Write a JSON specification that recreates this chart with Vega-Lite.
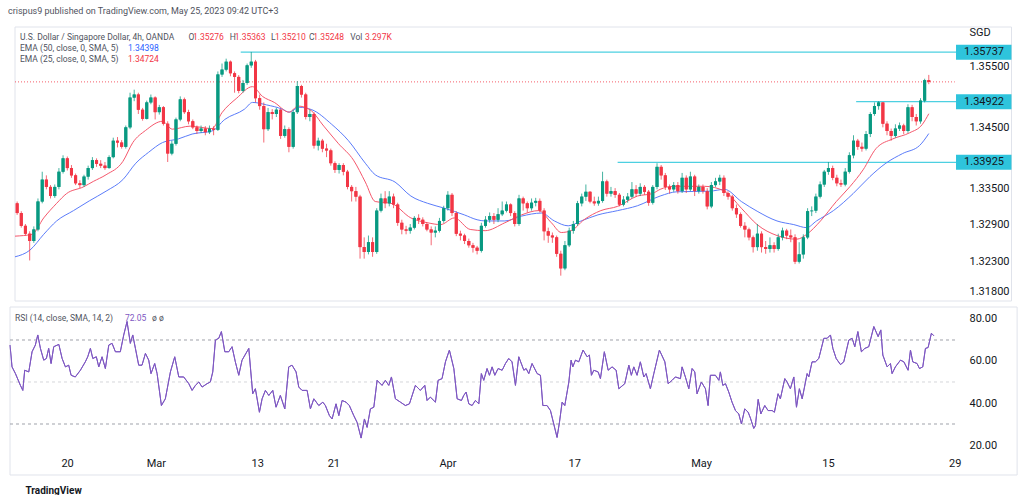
{
"$schema":"https://vega.github.io/schema/vega-lite/v6.json",
"background":"#ffffff",
"padding":{"left":8,"top":7,"right":0,"bottom":0},
"title":{"text":"crispus9 published on TradingView.com, May 25, 2023 09:42 UTC+3","anchor":"start","fontSize":9,"fontWeight":"normal","color":"#50535e","font":"Roboto","offset":6},
"config":{"view":{"stroke":null},"font":"Roboto","axis":{"labelFont":"Roboto","titleFont":"Roboto"}},
"datasets":{
"candles":[
{"t":-4.33,"o":1.3325,"h":1.3328,"l":1.3306,"c":1.3309},
{"t":-4,"o":1.3309,"h":1.3312,"l":1.3285,"c":1.3288},
{"t":-3.67,"o":1.3288,"h":1.3291,"l":1.3272,"c":1.3275},
{"t":-3.33,"o":1.3275,"h":1.3279,"l":1.3231,"c":1.3263},
{"t":-3,"o":1.3263,"h":1.3287,"l":1.3260,"c":1.3282},
{"t":-2.67,"o":1.3282,"h":1.3333,"l":1.3279,"c":1.3328},
{"t":-2.33,"o":1.3328,"h":1.3377,"l":1.3325,"c":1.3364},
{"t":-2,"o":1.3364,"h":1.3371,"l":1.3348,"c":1.3352},
{"t":-1.67,"o":1.3352,"h":1.3355,"l":1.3333,"c":1.3337},
{"t":-1.33,"o":1.3337,"h":1.3356,"l":1.3334,"c":1.3352},
{"t":-1,"o":1.3352,"h":1.3383,"l":1.3348,"c":1.3377},
{"t":-0.67,"o":1.3377,"h":1.3404,"l":1.3374,"c":1.3399},
{"t":-0.33,"o":1.3399,"h":1.3402,"l":1.3379,"c":1.3383},
{"t":0,"o":1.3383,"h":1.3388,"l":1.3367,"c":1.3371},
{"t":0.33,"o":1.3371,"h":1.3374,"l":1.3355,"c":1.3358},
{"t":0.67,"o":1.3358,"h":1.3363,"l":1.3350,"c":1.3355},
{"t":1,"o":1.3355,"h":1.3372,"l":1.3352,"c":1.3369},
{"t":1.33,"o":1.3369,"h":1.3387,"l":1.3364,"c":1.3383},
{"t":1.67,"o":1.3383,"h":1.3401,"l":1.3380,"c":1.3396},
{"t":2,"o":1.3396,"h":1.3399,"l":1.3385,"c":1.3390},
{"t":2.33,"o":1.3390,"h":1.3396,"l":1.3383,"c":1.3387},
{"t":2.67,"o":1.3387,"h":1.3393,"l":1.3380,"c":1.3383},
{"t":3,"o":1.3383,"h":1.3404,"l":1.3382,"c":1.3401},
{"t":3.33,"o":1.3401,"h":1.3433,"l":1.3399,"c":1.3428},
{"t":3.67,"o":1.3428,"h":1.3434,"l":1.3417,"c":1.3425},
{"t":4,"o":1.3425,"h":1.3429,"l":1.3415,"c":1.3418},
{"t":4.33,"o":1.3418,"h":1.3453,"l":1.3415,"c":1.3450},
{"t":4.67,"o":1.3450,"h":1.3507,"l":1.3447,"c":1.3499},
{"t":5,"o":1.3499,"h":1.3512,"l":1.3493,"c":1.3504},
{"t":5.33,"o":1.3504,"h":1.3507,"l":1.3472,"c":1.3479},
{"t":5.67,"o":1.3479,"h":1.3482,"l":1.3461,"c":1.3464},
{"t":6,"o":1.3464,"h":1.3494,"l":1.3463,"c":1.3491},
{"t":6.33,"o":1.3491,"h":1.3504,"l":1.3488,"c":1.3499},
{"t":6.67,"o":1.3499,"h":1.3501,"l":1.3463,"c":1.3475},
{"t":7,"o":1.3475,"h":1.3487,"l":1.3471,"c":1.3483},
{"t":7.33,"o":1.3483,"h":1.3485,"l":1.3453,"c":1.3456},
{"t":7.67,"o":1.3456,"h":1.3460,"l":1.3393,"c":1.3407},
{"t":8,"o":1.3407,"h":1.3428,"l":1.3404,"c":1.3423},
{"t":8.33,"o":1.3423,"h":1.3466,"l":1.3420,"c":1.3463},
{"t":8.67,"o":1.3463,"h":1.3501,"l":1.3460,"c":1.3496},
{"t":9,"o":1.3496,"h":1.3499,"l":1.3472,"c":1.3475},
{"t":9.33,"o":1.3475,"h":1.3479,"l":1.3455,"c":1.3460},
{"t":9.67,"o":1.3460,"h":1.3463,"l":1.3447,"c":1.3450},
{"t":10,"o":1.3450,"h":1.3453,"l":1.3439,"c":1.3444},
{"t":10.33,"o":1.3444,"h":1.3453,"l":1.3441,"c":1.3448},
{"t":10.67,"o":1.3448,"h":1.3452,"l":1.3437,"c":1.3442},
{"t":11,"o":1.3442,"h":1.3453,"l":1.3439,"c":1.3448},
{"t":11.33,"o":1.3448,"h":1.3452,"l":1.3437,"c":1.3446},
{"t":11.67,"o":1.3446,"h":1.3542,"l":1.3444,"c":1.3537},
{"t":12,"o":1.3537,"h":1.3555,"l":1.3533,"c":1.3545},
{"t":12.33,"o":1.3545,"h":1.3563,"l":1.3542,"c":1.3558},
{"t":12.67,"o":1.3558,"h":1.3560,"l":1.3534,"c":1.3539},
{"t":13,"o":1.3539,"h":1.3542,"l":1.3507,"c":1.3533},
{"t":13.33,"o":1.3533,"h":1.3536,"l":1.3506,"c":1.3510},
{"t":13.67,"o":1.3510,"h":1.3528,"l":1.3507,"c":1.3523},
{"t":14,"o":1.3523,"h":1.3555,"l":1.3520,"c":1.3552},
{"t":14.33,"o":1.3552,"h":1.3574,"l":1.3548,"c":1.3558},
{"t":14.67,"o":1.3558,"h":1.3561,"l":1.3491,"c":1.3498},
{"t":15,"o":1.3498,"h":1.3504,"l":1.3479,"c":1.3485},
{"t":15.33,"o":1.3485,"h":1.3491,"l":1.3425,"c":1.3447},
{"t":15.67,"o":1.3447,"h":1.3482,"l":1.3444,"c":1.3475},
{"t":16,"o":1.3475,"h":1.3480,"l":1.3463,"c":1.3472},
{"t":16.33,"o":1.3472,"h":1.3482,"l":1.3467,"c":1.3479},
{"t":16.67,"o":1.3479,"h":1.3480,"l":1.3431,"c":1.3436},
{"t":17,"o":1.3436,"h":1.3453,"l":1.3433,"c":1.3447},
{"t":17.33,"o":1.3447,"h":1.3450,"l":1.3409,"c":1.3418},
{"t":17.67,"o":1.3418,"h":1.3479,"l":1.3415,"c":1.3475},
{"t":18,"o":1.3475,"h":1.3526,"l":1.3472,"c":1.3518},
{"t":18.33,"o":1.3518,"h":1.3520,"l":1.3499,"c":1.3504},
{"t":18.67,"o":1.3504,"h":1.3507,"l":1.3463,"c":1.3467},
{"t":19,"o":1.3467,"h":1.3479,"l":1.3460,"c":1.3472},
{"t":19.33,"o":1.3472,"h":1.3475,"l":1.3415,"c":1.3420},
{"t":19.67,"o":1.3420,"h":1.3433,"l":1.3412,"c":1.3428},
{"t":20,"o":1.3428,"h":1.3431,"l":1.3409,"c":1.3415},
{"t":20.33,"o":1.3415,"h":1.3423,"l":1.3401,"c":1.3412},
{"t":20.67,"o":1.3412,"h":1.3415,"l":1.3387,"c":1.3391},
{"t":21,"o":1.3391,"h":1.3394,"l":1.3375,"c":1.3380},
{"t":21.33,"o":1.3380,"h":1.3391,"l":1.3374,"c":1.3388},
{"t":21.67,"o":1.3388,"h":1.3391,"l":1.3371,"c":1.3377},
{"t":22,"o":1.3377,"h":1.3380,"l":1.3348,"c":1.3352},
{"t":22.33,"o":1.3352,"h":1.3355,"l":1.3328,"c":1.3345},
{"t":22.67,"o":1.3345,"h":1.3352,"l":1.3328,"c":1.3336},
{"t":23,"o":1.3336,"h":1.3339,"l":1.3234,"c":1.3253},
{"t":23.33,"o":1.3253,"h":1.3269,"l":1.3234,"c":1.3245},
{"t":23.67,"o":1.3245,"h":1.3272,"l":1.3241,"c":1.3261},
{"t":24,"o":1.3261,"h":1.3269,"l":1.3237,"c":1.3245},
{"t":24.33,"o":1.3245,"h":1.3317,"l":1.3242,"c":1.3313},
{"t":24.67,"o":1.3313,"h":1.3341,"l":1.3310,"c":1.3333},
{"t":25,"o":1.3333,"h":1.3345,"l":1.3317,"c":1.3325},
{"t":25.33,"o":1.3325,"h":1.3345,"l":1.3320,"c":1.3336},
{"t":25.67,"o":1.3336,"h":1.3341,"l":1.3317,"c":1.3323},
{"t":26,"o":1.3323,"h":1.3326,"l":1.3288,"c":1.3293},
{"t":26.33,"o":1.3293,"h":1.3298,"l":1.3274,"c":1.3282},
{"t":26.67,"o":1.3282,"h":1.3288,"l":1.3274,"c":1.3280},
{"t":27,"o":1.3280,"h":1.3291,"l":1.3275,"c":1.3285},
{"t":27.33,"o":1.3285,"h":1.3304,"l":1.3282,"c":1.3301},
{"t":27.67,"o":1.3301,"h":1.3307,"l":1.3291,"c":1.3298},
{"t":28,"o":1.3298,"h":1.3302,"l":1.3287,"c":1.3291},
{"t":28.33,"o":1.3291,"h":1.3294,"l":1.3279,"c":1.3282},
{"t":28.67,"o":1.3282,"h":1.3287,"l":1.3256,"c":1.3277},
{"t":29,"o":1.3277,"h":1.3287,"l":1.3269,"c":1.3280},
{"t":29.33,"o":1.3280,"h":1.3301,"l":1.3277,"c":1.3296},
{"t":29.67,"o":1.3296,"h":1.3321,"l":1.3293,"c":1.3317},
{"t":30,"o":1.3317,"h":1.3345,"l":1.3313,"c":1.3339},
{"t":30.33,"o":1.3339,"h":1.3342,"l":1.3304,"c":1.3309},
{"t":30.67,"o":1.3309,"h":1.3312,"l":1.3271,"c":1.3275},
{"t":31,"o":1.3275,"h":1.3280,"l":1.3264,"c":1.3272},
{"t":31.33,"o":1.3272,"h":1.3275,"l":1.3258,"c":1.3263},
{"t":31.67,"o":1.3263,"h":1.3267,"l":1.3252,"c":1.3256},
{"t":32,"o":1.3256,"h":1.3260,"l":1.3244,"c":1.3252},
{"t":32.33,"o":1.3252,"h":1.3255,"l":1.3241,"c":1.3247},
{"t":32.67,"o":1.3247,"h":1.3293,"l":1.3244,"c":1.3288},
{"t":33,"o":1.3288,"h":1.3304,"l":1.3285,"c":1.3298},
{"t":33.33,"o":1.3298,"h":1.3310,"l":1.3293,"c":1.3304},
{"t":33.67,"o":1.3304,"h":1.3309,"l":1.3291,"c":1.3298},
{"t":34,"o":1.3298,"h":1.3317,"l":1.3294,"c":1.3307},
{"t":34.33,"o":1.3307,"h":1.3328,"l":1.3304,"c":1.3313},
{"t":34.67,"o":1.3313,"h":1.3328,"l":1.3310,"c":1.3323},
{"t":35,"o":1.3323,"h":1.3325,"l":1.3304,"c":1.3309},
{"t":35.33,"o":1.3309,"h":1.3312,"l":1.3287,"c":1.3291},
{"t":35.67,"o":1.3291,"h":1.3339,"l":1.3288,"c":1.3333},
{"t":36,"o":1.3333,"h":1.3336,"l":1.3313,"c":1.3325},
{"t":36.33,"o":1.3325,"h":1.3328,"l":1.3310,"c":1.3317},
{"t":36.67,"o":1.3317,"h":1.3333,"l":1.3313,"c":1.3326},
{"t":37,"o":1.3326,"h":1.3334,"l":1.3320,"c":1.3329},
{"t":37.33,"o":1.3329,"h":1.3333,"l":1.3310,"c":1.3313},
{"t":37.67,"o":1.3313,"h":1.3317,"l":1.3264,"c":1.3279},
{"t":38,"o":1.3279,"h":1.3285,"l":1.3260,"c":1.3272},
{"t":38.33,"o":1.3272,"h":1.3277,"l":1.3260,"c":1.3269},
{"t":38.67,"o":1.3269,"h":1.3272,"l":1.3237,"c":1.3242},
{"t":39,"o":1.3242,"h":1.3247,"l":1.3206,"c":1.3218},
{"t":39.33,"o":1.3218,"h":1.3263,"l":1.3215,"c":1.3256},
{"t":39.67,"o":1.3256,"h":1.3285,"l":1.3253,"c":1.3280},
{"t":40,"o":1.3280,"h":1.3296,"l":1.3275,"c":1.3291},
{"t":40.33,"o":1.3291,"h":1.3329,"l":1.3288,"c":1.3325},
{"t":40.67,"o":1.3325,"h":1.3341,"l":1.3320,"c":1.3336},
{"t":41,"o":1.3336,"h":1.3356,"l":1.3329,"c":1.3344},
{"t":41.33,"o":1.3344,"h":1.3345,"l":1.3325,"c":1.3328},
{"t":41.67,"o":1.3328,"h":1.3336,"l":1.3321,"c":1.3325},
{"t":42,"o":1.3325,"h":1.3336,"l":1.3321,"c":1.3329},
{"t":42.33,"o":1.3329,"h":1.3377,"l":1.3326,"c":1.3361},
{"t":42.67,"o":1.3361,"h":1.3364,"l":1.3336,"c":1.3341},
{"t":43,"o":1.3341,"h":1.3352,"l":1.3336,"c":1.3345},
{"t":43.33,"o":1.3345,"h":1.3350,"l":1.3334,"c":1.3339},
{"t":43.67,"o":1.3339,"h":1.3342,"l":1.3320,"c":1.3323},
{"t":44,"o":1.3323,"h":1.3337,"l":1.3320,"c":1.3331},
{"t":44.33,"o":1.3331,"h":1.3342,"l":1.3326,"c":1.3336},
{"t":44.67,"o":1.3336,"h":1.3360,"l":1.3333,"c":1.3348},
{"t":45,"o":1.3348,"h":1.3355,"l":1.3336,"c":1.3341},
{"t":45.33,"o":1.3341,"h":1.3358,"l":1.3337,"c":1.3352},
{"t":45.67,"o":1.3352,"h":1.3355,"l":1.3339,"c":1.3344},
{"t":46,"o":1.3344,"h":1.3347,"l":1.3321,"c":1.3326},
{"t":46.33,"o":1.3326,"h":1.3355,"l":1.3323,"c":1.3352},
{"t":46.67,"o":1.3352,"h":1.3391,"l":1.3348,"c":1.3385},
{"t":47,"o":1.3385,"h":1.3388,"l":1.3364,"c":1.3371},
{"t":47.33,"o":1.3371,"h":1.3375,"l":1.3347,"c":1.3352},
{"t":47.67,"o":1.3352,"h":1.3356,"l":1.3341,"c":1.3348},
{"t":48,"o":1.3348,"h":1.3360,"l":1.3344,"c":1.3355},
{"t":48.33,"o":1.3355,"h":1.3360,"l":1.3341,"c":1.3345},
{"t":48.67,"o":1.3345,"h":1.3375,"l":1.3342,"c":1.3367},
{"t":49,"o":1.3367,"h":1.3371,"l":1.3342,"c":1.3348},
{"t":49.33,"o":1.3348,"h":1.3377,"l":1.3345,"c":1.3369},
{"t":49.67,"o":1.3369,"h":1.3372,"l":1.3337,"c":1.3345},
{"t":50,"o":1.3345,"h":1.3356,"l":1.3341,"c":1.3352},
{"t":50.33,"o":1.3352,"h":1.3356,"l":1.3341,"c":1.3345},
{"t":50.67,"o":1.3345,"h":1.3350,"l":1.3315,"c":1.3320},
{"t":51,"o":1.3320,"h":1.3360,"l":1.3317,"c":1.3355},
{"t":51.33,"o":1.3355,"h":1.3367,"l":1.3352,"c":1.3361},
{"t":51.67,"o":1.3361,"h":1.3372,"l":1.3355,"c":1.3367},
{"t":52,"o":1.3367,"h":1.3371,"l":1.3337,"c":1.3342},
{"t":52.33,"o":1.3342,"h":1.3345,"l":1.3331,"c":1.3336},
{"t":52.67,"o":1.3336,"h":1.3339,"l":1.3313,"c":1.3317},
{"t":53,"o":1.3317,"h":1.3323,"l":1.3301,"c":1.3307},
{"t":53.33,"o":1.3307,"h":1.3310,"l":1.3285,"c":1.3288},
{"t":53.67,"o":1.3288,"h":1.3294,"l":1.3269,"c":1.3282},
{"t":54,"o":1.3282,"h":1.3285,"l":1.3264,"c":1.3269},
{"t":54.33,"o":1.3269,"h":1.3272,"l":1.3244,"c":1.3253},
{"t":54.67,"o":1.3253,"h":1.3291,"l":1.3247,"c":1.3275},
{"t":55,"o":1.3275,"h":1.3279,"l":1.3244,"c":1.3253},
{"t":55.33,"o":1.3253,"h":1.3263,"l":1.3242,"c":1.3250},
{"t":55.67,"o":1.3250,"h":1.3269,"l":1.3244,"c":1.3256},
{"t":56,"o":1.3256,"h":1.3261,"l":1.3244,"c":1.3250},
{"t":56.33,"o":1.3250,"h":1.3275,"l":1.3247,"c":1.3269},
{"t":56.67,"o":1.3269,"h":1.3285,"l":1.3264,"c":1.3280},
{"t":57,"o":1.3280,"h":1.3283,"l":1.3266,"c":1.3272},
{"t":57.33,"o":1.3272,"h":1.3282,"l":1.3261,"c":1.3269},
{"t":57.67,"o":1.3269,"h":1.3274,"l":1.3225,"c":1.3229},
{"t":58,"o":1.3229,"h":1.3261,"l":1.3226,"c":1.3241},
{"t":58.33,"o":1.3241,"h":1.3274,"l":1.3234,"c":1.3269},
{"t":58.67,"o":1.3269,"h":1.3317,"l":1.3266,"c":1.3312},
{"t":59,"o":1.3312,"h":1.3320,"l":1.3304,"c":1.3313},
{"t":59.33,"o":1.3313,"h":1.3341,"l":1.3309,"c":1.3336},
{"t":59.67,"o":1.3336,"h":1.3361,"l":1.3333,"c":1.3356},
{"t":60,"o":1.3356,"h":1.3380,"l":1.3352,"c":1.3377},
{"t":60.33,"o":1.3377,"h":1.3393,"l":1.3372,"c":1.3383},
{"t":60.67,"o":1.3383,"h":1.3387,"l":1.3363,"c":1.3367},
{"t":61,"o":1.3367,"h":1.3372,"l":1.3353,"c":1.3358},
{"t":61.33,"o":1.3358,"h":1.3364,"l":1.3352,"c":1.3356},
{"t":61.67,"o":1.3356,"h":1.3383,"l":1.3353,"c":1.3377},
{"t":62,"o":1.3377,"h":1.3409,"l":1.3374,"c":1.3404},
{"t":62.33,"o":1.3404,"h":1.3437,"l":1.3399,"c":1.3428},
{"t":62.67,"o":1.3428,"h":1.3431,"l":1.3413,"c":1.3418},
{"t":63,"o":1.3418,"h":1.3425,"l":1.3410,"c":1.3415},
{"t":63.33,"o":1.3415,"h":1.3444,"l":1.3412,"c":1.3439},
{"t":63.67,"o":1.3439,"h":1.3475,"l":1.3434,"c":1.3472},
{"t":64,"o":1.3472,"h":1.3491,"l":1.3469,"c":1.3485},
{"t":64.33,"o":1.3485,"h":1.3493,"l":1.3479,"c":1.3491},
{"t":64.67,"o":1.3491,"h":1.3491,"l":1.3450,"c":1.3456},
{"t":65,"o":1.3456,"h":1.3460,"l":1.3437,"c":1.3444},
{"t":65.33,"o":1.3444,"h":1.3448,"l":1.3428,"c":1.3436},
{"t":65.67,"o":1.3436,"h":1.3455,"l":1.3433,"c":1.3448},
{"t":66,"o":1.3448,"h":1.3458,"l":1.3444,"c":1.3453},
{"t":66.33,"o":1.3453,"h":1.3456,"l":1.3439,"c":1.3444},
{"t":66.67,"o":1.3444,"h":1.3488,"l":1.3441,"c":1.3483},
{"t":67,"o":1.3483,"h":1.3487,"l":1.3460,"c":1.3467},
{"t":67.33,"o":1.3467,"h":1.3472,"l":1.3453,"c":1.3460},
{"t":67.67,"o":1.3460,"h":1.3498,"l":1.3456,"c":1.3494},
{"t":68,"o":1.3494,"h":1.3530,"l":1.3491,"c":1.35276},
{"t":68.33,"o":1.35276,"h":1.35363,"l":1.3521,"c":1.35248}
],
"ema25":[
{"t":-4.5,"v":1.3271},{"t":-3.15,"v":1.3274},{"t":-2.21,"v":1.3301},{"t":-1.18,"v":1.3325},{"t":-0.39,"v":1.3341},{"t":0.95,"v":1.3352},{"t":1.74,"v":1.3361},{"t":2.76,"v":1.3372},{"t":4.1,"v":1.3394},{"t":4.89,"v":1.3425},{"t":5.91,"v":1.3445},{"t":7.26,"v":1.346},{"t":8.04,"v":1.3447},{"t":9.46,"v":1.3452},{"t":11.2,"v":1.3448},{"t":11.99,"v":1.3474},{"t":13.17,"v":1.3498},{"t":14.43,"v":1.3517},{"t":15.22,"v":1.3501},{"t":16.17,"v":1.3491},{"t":17.35,"v":1.3475},{"t":18.06,"v":1.3485},{"t":19.01,"v":1.3479},{"t":20.11,"v":1.3452},{"t":21.29,"v":1.3423},{"t":22.48,"v":1.3396},{"t":23.42,"v":1.336},{"t":24.21,"v":1.3328},{"t":25.47,"v":1.3325},{"t":27.05,"v":1.3301},{"t":28.39,"v":1.3293},{"t":29.42,"v":1.329},{"t":30.52,"v":1.3301},{"t":31.78,"v":1.3282},{"t":32.97,"v":1.328},{"t":34.54,"v":1.3293},{"t":35.88,"v":1.3306},{"t":37.22,"v":1.3313},{"t":38.25,"v":1.3293},{"t":39.04,"v":1.3277},{"t":39.83,"v":1.328},{"t":40.85,"v":1.3298},{"t":42.19,"v":1.3313},{"t":43.53,"v":1.332},{"t":45.11,"v":1.3337},{"t":46.29,"v":1.3341},{"t":46.92,"v":1.3348},{"t":47.95,"v":1.3353},{"t":49.29,"v":1.3353},{"t":50.47,"v":1.3353},{"t":52.05,"v":1.3345},{"t":53.39,"v":1.3317},{"t":54.65,"v":1.329},{"t":56.23,"v":1.3272},{"t":57.81,"v":1.3266},{"t":58.6,"v":1.3274},{"t":59.7,"v":1.3296},{"t":60.96,"v":1.3328},{"t":62.07,"v":1.3353},{"t":63.09,"v":1.338},{"t":64.12,"v":1.3415},{"t":65.46,"v":1.3431},{"t":66.8,"v":1.3441},{"t":67.82,"v":1.3455},{"t":68.33,"v":1.34724}
],
"ema50":[
{"t":-4.5,"v":1.3237},{"t":-3.31,"v":1.3248},{"t":-2.21,"v":1.3274},{"t":-1.18,"v":1.3296},{"t":0.16,"v":1.3313},{"t":1.42,"v":1.3329},{"t":2.76,"v":1.3345},{"t":4.1,"v":1.3364},{"t":5.13,"v":1.3391},{"t":6.15,"v":1.3409},{"t":7.26,"v":1.3425},{"t":8.52,"v":1.3431},{"t":9.62,"v":1.3439},{"t":11.2,"v":1.3444},{"t":12.22,"v":1.3463},{"t":13.8,"v":1.348},{"t":14.43,"v":1.3491},{"t":15.54,"v":1.3487},{"t":16.8,"v":1.348},{"t":17.35,"v":1.3475},{"t":18.14,"v":1.3483},{"t":19.16,"v":1.3479},{"t":20.74,"v":1.3455},{"t":22.08,"v":1.3428},{"t":23.42,"v":1.3391},{"t":24.21,"v":1.3372},{"t":25.79,"v":1.336},{"t":27.05,"v":1.3337},{"t":28.39,"v":1.3325},{"t":29.73,"v":1.3317},{"t":31.31,"v":1.3306},{"t":32.33,"v":1.3298},{"t":32.97,"v":1.3296},{"t":34.54,"v":1.3296},{"t":35.88,"v":1.3304},{"t":37.46,"v":1.3309},{"t":38.49,"v":1.3296},{"t":39.59,"v":1.3288},{"t":40.62,"v":1.3296},{"t":41.96,"v":1.3306},{"t":43.53,"v":1.3313},{"t":45.11,"v":1.3321},{"t":46.92,"v":1.3337},{"t":48.26,"v":1.3344},{"t":50.87,"v":1.3345},{"t":52.05,"v":1.3348},{"t":53.39,"v":1.3328},{"t":54.65,"v":1.3312},{"t":56.23,"v":1.3296},{"t":57.57,"v":1.329},{"t":58.6,"v":1.3285},{"t":59.38,"v":1.3296},{"t":60.73,"v":1.3313},{"t":62.3,"v":1.3341},{"t":63.64,"v":1.3369},{"t":64.91,"v":1.3391},{"t":66.25,"v":1.3407},{"t":67.59,"v":1.342},{"t":68.33,"v":1.34398}
],
"rsi":[
{"t":-4.5,"r":67.6},{"t":-4.34,"r":57.2},{"t":-4.07,"r":54},{"t":-3.68,"r":48.4},{"t":-3.49,"r":46},{"t":-3.34,"r":55.6},{"t":-3.02,"r":54.8},{"t":-2.76,"r":64.4},{"t":-2.5,"r":67.6},{"t":-2.31,"r":72.4},{"t":-2.1,"r":66},{"t":-1.84,"r":60.4},{"t":-1.63,"r":61.2},{"t":-1.45,"r":66},{"t":-1.26,"r":58.8},{"t":-1.05,"r":66.8},{"t":-0.65,"r":67.9},{"t":-0.39,"r":61.2},{"t":-0.13,"r":57.2},{"t":0.13,"r":58},{"t":0.32,"r":53.2},{"t":0.65,"r":52.4},{"t":1.05,"r":55.6},{"t":1.44,"r":59.6},{"t":1.63,"r":62},{"t":1.84,"r":66},{"t":2.03,"r":61.2},{"t":2.31,"r":62},{"t":2.5,"r":57.2},{"t":2.76,"r":62},{"t":3.02,"r":56.4},{"t":3.29,"r":67.6},{"t":3.55,"r":68.4},{"t":3.81,"r":64.4},{"t":4.2,"r":64.4},{"t":4.47,"r":72.4},{"t":4.73,"r":78.8},{"t":4.99,"r":68.4},{"t":5.18,"r":72.4},{"t":5.39,"r":66},{"t":5.65,"r":58},{"t":5.91,"r":58},{"t":6.18,"r":63.6},{"t":6.44,"r":60.4},{"t":6.62,"r":54},{"t":6.91,"r":58.8},{"t":7.1,"r":54},{"t":7.44,"r":38.8},{"t":7.75,"r":42},{"t":8.15,"r":54.8},{"t":8.49,"r":62},{"t":8.81,"r":52.4},{"t":9.2,"r":52.4},{"t":9.6,"r":49.2},{"t":9.86,"r":46},{"t":10.12,"r":48.4},{"t":10.39,"r":50},{"t":10.65,"r":47.6},{"t":11.04,"r":49.2},{"t":11.3,"r":50},{"t":11.49,"r":54.8},{"t":11.7,"r":70},{"t":11.96,"r":70.8},{"t":12.17,"r":74},{"t":12.44,"r":64.4},{"t":12.75,"r":64.4},{"t":13.01,"r":66.8},{"t":13.27,"r":59.6},{"t":13.54,"r":53.2},{"t":13.8,"r":60.4},{"t":14.33,"r":66},{"t":14.64,"r":44.4},{"t":14.85,"r":46.8},{"t":15.17,"r":35.6},{"t":15.38,"r":42},{"t":15.64,"r":46},{"t":15.91,"r":43.6},{"t":16.22,"r":46},{"t":16.48,"r":38},{"t":16.82,"r":43.6},{"t":17.17,"r":37.2},{"t":17.48,"r":57.2},{"t":17.74,"r":58},{"t":18.06,"r":54.8},{"t":18.27,"r":47.6},{"t":18.53,"r":46},{"t":18.93,"r":46},{"t":19.19,"r":37.2},{"t":19.46,"r":42},{"t":19.85,"r":38.8},{"t":20.17,"r":40.4},{"t":20.37,"r":38.8},{"t":20.69,"r":34},{"t":20.9,"r":32.4},{"t":21.21,"r":39.6},{"t":21.43,"r":34},{"t":21.69,"r":41.2},{"t":22,"r":40.4},{"t":22.26,"r":38.8},{"t":22.61,"r":34},{"t":22.87,"r":30.8},{"t":23.19,"r":23.3},{"t":23.45,"r":32.4},{"t":23.66,"r":28.4},{"t":23.92,"r":37.2},{"t":24.19,"r":38},{"t":24.45,"r":50.8},{"t":24.84,"r":48.4},{"t":25.1,"r":50.8},{"t":25.37,"r":48.4},{"t":25.58,"r":52.4},{"t":25.89,"r":42},{"t":26.29,"r":40.4},{"t":26.68,"r":38.8},{"t":27,"r":39.6},{"t":27.47,"r":48.4},{"t":27.86,"r":46},{"t":28.21,"r":48.4},{"t":28.39,"r":41.2},{"t":28.65,"r":42.8},{"t":29.05,"r":40.4},{"t":29.26,"r":50.8},{"t":29.57,"r":51.6},{"t":29.84,"r":59.6},{"t":30.15,"r":65.2},{"t":30.5,"r":56.4},{"t":30.76,"r":42},{"t":31.1,"r":41.2},{"t":31.28,"r":43.6},{"t":31.47,"r":45.2},{"t":31.68,"r":39.6},{"t":31.94,"r":38.8},{"t":32.2,"r":41.2},{"t":32.47,"r":39.6},{"t":32.67,"r":54},{"t":32.86,"r":50.8},{"t":33.12,"r":56.4},{"t":33.31,"r":53.2},{"t":33.52,"r":57.2},{"t":33.73,"r":53.2},{"t":33.99,"r":56.4},{"t":34.31,"r":55.6},{"t":34.57,"r":58.8},{"t":34.83,"r":61.2},{"t":35.09,"r":59.6},{"t":35.36,"r":48.4},{"t":35.62,"r":62},{"t":36.02,"r":55.6},{"t":36.2,"r":56.4},{"t":36.41,"r":54},{"t":36.67,"r":58.8},{"t":37.07,"r":54},{"t":37.33,"r":53.2},{"t":37.52,"r":38.8},{"t":37.85,"r":38.8},{"t":38.12,"r":36.4},{"t":38.38,"r":30},{"t":38.64,"r":23.6},{"t":38.83,"r":30.8},{"t":39.04,"r":40.4},{"t":39.25,"r":38.8},{"t":39.57,"r":50},{"t":39.75,"r":60.4},{"t":39.88,"r":57.2},{"t":40.09,"r":60.4},{"t":40.35,"r":59.6},{"t":40.69,"r":65.2},{"t":41.01,"r":62},{"t":41.19,"r":62.8},{"t":41.35,"r":53.2},{"t":41.54,"r":55.6},{"t":41.88,"r":54.8},{"t":42.06,"r":51.6},{"t":42.37,"r":64.4},{"t":42.67,"r":55.6},{"t":42.98,"r":57.2},{"t":43.3,"r":55.6},{"t":43.51,"r":46.8},{"t":43.98,"r":49.2},{"t":44.3,"r":58},{"t":44.5,"r":53.2},{"t":44.69,"r":57.2},{"t":44.95,"r":53.2},{"t":45.21,"r":59.6},{"t":45.48,"r":52.4},{"t":45.66,"r":54},{"t":46,"r":46.8},{"t":46.27,"r":54},{"t":46.71,"r":65.2},{"t":47.14,"r":59.6},{"t":47.4,"r":49.2},{"t":47.71,"r":50.8},{"t":47.97,"r":52.4},{"t":48.37,"r":51.6},{"t":48.5,"r":57.2},{"t":48.76,"r":52.4},{"t":49.03,"r":46.8},{"t":49.29,"r":56.4},{"t":49.5,"r":54.8},{"t":49.68,"r":44.4},{"t":50.02,"r":50},{"t":50.34,"r":46.8},{"t":50.55,"r":38.8},{"t":50.73,"r":53.2},{"t":51.13,"r":53.2},{"t":51.4,"r":50.8},{"t":51.52,"r":54.8},{"t":51.71,"r":48.4},{"t":51.92,"r":49.2},{"t":52.18,"r":45.2},{"t":52.44,"r":40.4},{"t":52.71,"r":36.4},{"t":52.97,"r":34.8},{"t":53.18,"r":30},{"t":53.44,"r":37.2},{"t":53.71,"r":35.6},{"t":53.89,"r":32.8},{"t":54.15,"r":27.9},{"t":54.28,"r":29.2},{"t":54.5,"r":41.7},{"t":54.71,"r":34.8},{"t":55.02,"r":38.8},{"t":55.28,"r":36.4},{"t":55.6,"r":36.4},{"t":55.78,"r":35.6},{"t":56.07,"r":44.4},{"t":56.25,"r":42},{"t":56.6,"r":51.6},{"t":56.78,"r":50},{"t":57.04,"r":46.8},{"t":57.31,"r":52.4},{"t":57.52,"r":38},{"t":57.75,"r":46.8},{"t":57.97,"r":42},{"t":58.36,"r":54},{"t":58.49,"r":52.4},{"t":58.75,"r":59.6},{"t":59.01,"r":59.6},{"t":59.28,"r":61.2},{"t":59.68,"r":70.8},{"t":59.94,"r":70.8},{"t":60.2,"r":72.4},{"t":60.39,"r":66},{"t":60.65,"r":61.2},{"t":60.99,"r":58.3},{"t":61.25,"r":59.6},{"t":61.65,"r":70},{"t":61.91,"r":70.8},{"t":62.12,"r":66.8},{"t":62.36,"r":74},{"t":62.64,"r":64.4},{"t":62.91,"r":66},{"t":63.22,"r":66.8},{"t":63.62,"r":76.4},{"t":63.96,"r":71.6},{"t":64.17,"r":74.8},{"t":64.33,"r":62.8},{"t":64.67,"r":57.2},{"t":64.93,"r":58.8},{"t":65.06,"r":54},{"t":65.32,"r":57.2},{"t":65.72,"r":60.4},{"t":65.99,"r":59.6},{"t":66.32,"r":55.6},{"t":66.51,"r":65.2},{"t":66.69,"r":59.6},{"t":67.03,"r":58.8},{"t":67.22,"r":56.4},{"t":67.48,"r":57.2},{"t":67.69,"r":66},{"t":67.9,"r":66.4},{"t":68.16,"r":73.2},{"t":68.35,"r":72.05}
],
"levels":[
{"p":1.35737,"t0":13.49,"s":"1.35737"},
{"p":1.34922,"t0":62.54,"s":"1.34922"},
{"p":1.33925,"t0":43.53,"s":"1.33925"}
],
"lastPrice":[{"p":1.35248}],
"bands":[{"r":70,"k":"outer"},{"r":50,"k":"mid"},{"r":30,"k":"outer"}],
"legendGrey":[
{"t":-4.1,"p":1.3599,"s":"U.S. Dollar / Singapore Dollar, 4h, OANDA"},
{"t":9.33,"p":1.3599,"s":"O"},
{"t":12.62,"p":1.3599,"s":"H"},
{"t":15.91,"p":1.3599,"s":"L"},
{"t":18.93,"p":1.3599,"s":"C"},
{"t":22.22,"p":1.3599,"s":"Vol"},
{"t":-4.1,"p":1.3581,"s":"EMA (50, close, 0, SMA, 5)"},
{"t":-4.1,"p":1.3563,"s":"EMA (25, close, 0, SMA, 5)"}
],
"legendRed":[
{"t":9.68,"p":1.3599,"s":"1.35276"},
{"t":13.01,"p":1.3599,"s":"1.35363"},
{"t":16.22,"p":1.3599,"s":"1.35210"},
{"t":19.27,"p":1.3599,"s":"1.35248"},
{"t":23.4,"p":1.3599,"s":"3.297K"},
{"t":4.5,"p":1.3563,"s":"1.34724"}
],
"legendBlue":[{"t":4.5,"p":1.3581,"s":"1.34398"}],
"rsiLegendGrey":[{"t":-4.1,"r":80.5,"s":"RSI (14, close, SMA, 14, 2)"},{"t":6.7,"r":80.5,"s":"ø  ø"}],
"rsiLegendValue":[{"t":4.57,"r":80.5,"s":"72.05"}]
},
"spacing":1,
"bounds":"flush",
"vconcat":[
{
"width":946,"height":284,
"layer":[
{"data":{"name":"candles"},"mark":{"type":"bar","size":3,"orient":"vertical"},
 "encoding":{"x":{"field":"t","type":"quantitative","scale":{"domain":[-4.5,70.1],"nice":false,"zero":false},"axis":null},
  "y":{"field":"o","type":"quantitative","scale":{"domain":[1.31643,1.36151],"nice":false,"zero":false},
   "axis":{"orient":"right","values":[1.318,1.323,1.329,1.335,1.345,1.355],"format":".5f","labelAlign":"left","labelBaseline":"middle","labelPadding":13,"ticks":false,"domain":false,"grid":false,"labelColor":"#131722","labelFontSize":11,
    "title":"SGD","titleAngle":0,"titleX":13,"titleY":10,"titleAlign":"left","titleBaseline":"middle","titleFontSize":11,"titleFontWeight":"normal","titleColor":"#131722"}},
  "y2":{"field":"c"},
  "color":{"condition":{"test":"datum.c >= datum.o","value":"#089981"},"value":"#f23645"}}},
{"data":{"values":[{}]},"mark":{"type":"rect","fillOpacity":0,"stroke":"#e0e3eb","strokeWidth":1},
 "encoding":{"x":{"datum":-4.5,"type":"quantitative","axis":null},"x2":{"datum":74.92},"y":{"datum":1.36151,"type":"quantitative"},"y2":{"datum":1.31643}}},
{"data":{"name":"lastPrice"},"mark":{"type":"rule","color":"#f23645","strokeWidth":1,"strokeDash":[1,2],"opacity":0.8},
 "encoding":{"x":{"datum":-4.5,"type":"quantitative","axis":null},"x2":{"datum":70.4},"y":{"field":"p","type":"quantitative"}}},
{"data":{"name":"levels"},"mark":{"type":"rule","color":"#4dd0e1","strokeWidth":1.3},
 "encoding":{"x":{"field":"t0","type":"quantitative","axis":null},"x2":{"datum":70.5},"y":{"field":"p","type":"quantitative"}}},
{"data":{"name":"ema50"},"mark":{"type":"line","color":"#5b7cfa","strokeWidth":1,"interpolate":"monotone"},
 "encoding":{"x":{"field":"t","type":"quantitative","axis":null},"y":{"field":"v","type":"quantitative"}}},
{"data":{"name":"ema25"},"mark":{"type":"line","color":"#f5576c","strokeWidth":1,"interpolate":"monotone"},
 "encoding":{"x":{"field":"t","type":"quantitative","axis":null},"y":{"field":"v","type":"quantitative"}}},
{"data":{"name":"candles"},"mark":{"type":"rule","strokeWidth":1,"opacity":0.75},
 "encoding":{"x":{"field":"t","type":"quantitative","axis":null},"y":{"field":"l","type":"quantitative"},"y2":{"field":"h"},
  "color":{"condition":{"test":"datum.c >= datum.o","value":"#089981"},"value":"#f23645"}}},
{"data":{"name":"candles"},"mark":{"type":"bar","size":3,"orient":"vertical"},
 "encoding":{"x":{"field":"t","type":"quantitative","axis":null},"y":{"field":"o","type":"quantitative"},"y2":{"field":"c"},
  "color":{"condition":{"test":"datum.c >= datum.o","value":"#089981"},"value":"#f23645"}}},
{"data":{"name":"levels"},"mark":{"type":"bar","orient":"horizontal","size":15,"color":"#2ec4dc"},
 "encoding":{"x":{"datum":70.5,"type":"quantitative","axis":null},"x2":{"datum":74.92},"y":{"field":"p","type":"quantitative"}}},
{"data":{"name":"levels"},"mark":{"type":"text","align":"left","baseline":"middle","fontSize":11,"color":"#131722","font":"Roboto"},
 "encoding":{"x":{"datum":71.14,"type":"quantitative","axis":null},"y":{"field":"p","type":"quantitative"},"text":{"field":"s"}}},
{"data":{"name":"legendGrey"},"mark":{"type":"text","align":"left","baseline":"middle","fontSize":8.5,"color":"#50535e","font":"Roboto"},
 "encoding":{"x":{"field":"t","type":"quantitative","axis":null},"y":{"field":"p","type":"quantitative"},"text":{"field":"s"}}},
{"data":{"name":"legendRed"},"mark":{"type":"text","align":"left","baseline":"middle","fontSize":8.5,"color":"#f23645","font":"Roboto"},
 "encoding":{"x":{"field":"t","type":"quantitative","axis":null},"y":{"field":"p","type":"quantitative"},"text":{"field":"s"}}},
{"data":{"name":"legendBlue"},"mark":{"type":"text","align":"left","baseline":"middle","fontSize":8.5,"color":"#2962ff","font":"Roboto"},
 "encoding":{"x":{"field":"t","type":"quantitative","axis":null},"y":{"field":"p","type":"quantitative"},"text":{"field":"s"}}}
]
},
{
"width":946,"height":145,
"layer":[
{"data":{"name":"rsi"},"mark":{"type":"line","color":"#7e57c2","strokeWidth":1},
 "encoding":{"x":{"field":"t","type":"quantitative","scale":{"domain":[-4.5,70.1],"nice":false,"zero":false},
   "axis":{"values":[0,7,15,21,30,40,50,60,70],"labelExpr":"datum.value == 0 ? '20' : datum.value == 7 ? 'Mar' : datum.value == 15 ? '13' : datum.value == 21 ? '21' : datum.value == 30 ? 'Apr' : datum.value == 40 ? '17' : datum.value == 50 ? 'May' : datum.value == 60 ? '15' : '29'","ticks":false,"domain":false,"grid":false,"labelColor":"#131722","labelFontSize":11,"labelPadding":5,"labelFlush":false,"labelOverlap":false,
    "title":"TradingView","titleAnchor":"start","titleAlign":"left","titleX":15,"titleY":38,"titleBaseline":"middle","titleFontSize":10,"titleFontWeight":"bold","titleColor":"#131722"}},
  "y":{"field":"r","type":"quantitative","scale":{"domain":[16.67,85.71],"nice":false,"zero":false},
   "axis":{"orient":"right","values":[20,40,60,80],"format":".2f","labelAlign":"left","labelBaseline":"middle","labelPadding":13,"ticks":false,"domain":false,"grid":false,"labelColor":"#131722","labelFontSize":11,"title":null}}}},
{"data":{"values":[{}]},"mark":{"type":"rect","fillOpacity":0,"stroke":"#e0e3eb","strokeWidth":1},
 "encoding":{"x":{"datum":-4.5,"type":"quantitative"},"x2":{"datum":74.92},"y":{"datum":85.71,"type":"quantitative"},"y2":{"datum":5.72}}},
{"data":{"name":"bands"},"mark":{"type":"rule","color":"#9598a1","strokeWidth":1,"strokeDash":[3,3]},
 "encoding":{"x":{"datum":-4.5,"type":"quantitative"},"x2":{"datum":70.1},"y":{"field":"r","type":"quantitative"},
  "strokeOpacity":{"condition":{"test":"datum.k == 'mid'","value":0.4},"value":0.9}}},
{"data":{"name":"rsi"},"mark":{"type":"line","color":"#7e57c2","strokeWidth":1},
 "encoding":{"x":{"field":"t","type":"quantitative"},"y":{"field":"r","type":"quantitative"}}},
{"data":{"name":"rsiLegendGrey"},"mark":{"type":"text","align":"left","baseline":"middle","fontSize":8.5,"color":"#50535e","font":"Roboto"},
 "encoding":{"x":{"field":"t","type":"quantitative"},"y":{"field":"r","type":"quantitative"},"text":{"field":"s"}}},
{"data":{"name":"rsiLegendValue"},"mark":{"type":"text","align":"left","baseline":"middle","fontSize":8.5,"color":"#7e57c2","font":"Roboto"},
 "encoding":{"x":{"field":"t","type":"quantitative"},"y":{"field":"r","type":"quantitative"},"text":{"field":"s"}}}
]
}
]
}
